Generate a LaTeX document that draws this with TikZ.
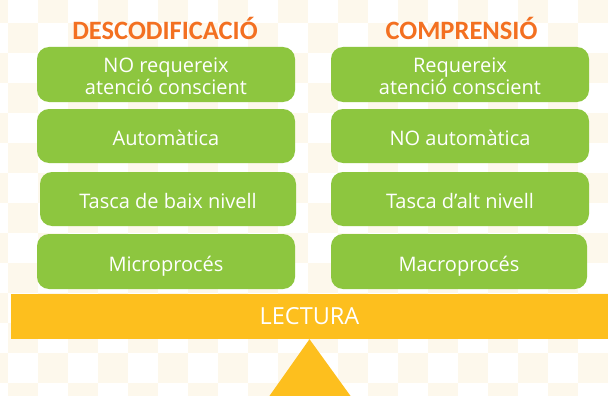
\documentclass[tikz,border=0pt]{standalone}
\usepackage{fontspec}
\setmainfont{Open Sans}
\newfontfamily\boxfont{Open Sans}
\newfontfamily\titlefont{Carlito}
\definecolor{cream}{RGB}{253,248,236}
\definecolor{leafgreen}{RGB}{141,198,63}
\definecolor{barorange}{RGB}{253,191,30}
\definecolor{titleorange}{RGB}{243,112,33}
\newcommand\boxtext[1]{\raisebox{-5pt}[\height][\depth]{\begin{tabular}{@{}c@{}}#1\end{tabular}}}
\tikzset{
  gbox/.style={fill=leafgreen, rounded corners=12pt, minimum width=258pt, minimum height=55pt,
    text=white, align=center, inner sep=0pt, font=\boxfont\fontsize{20}{21}\selectfont},
  ttl/.style={text=titleorange, inner sep=0pt, font=\titlefont\bfseries\fontsize{26.5}{28}\selectfont},
  barbox/.style={fill=barorange, minimum width=597pt, minimum height=45pt, inner sep=0pt,
    text=white, font=\boxfont\fontsize{23.5}{25}\selectfont}
}
\begin{document}
\begin{tikzpicture}[x=1pt,y=-1pt]
\useasboundingbox (0,0) rectangle (608,396);
\fill[white] (0,0) rectangle (608,396);
\begin{scope}
\clip (0,0) rectangle (608,396);
\foreach \c in {-1,...,20}{
  \foreach \r in {-1,...,12}{
    \pgfmathtruncatemacro\cellpar{mod(\c+\r+100,2)}
    \ifnum\cellpar=0
      \fill[cream] ({8+30*\c},{23+30*\r}) rectangle +(30,30);
    \fi
  }
}
\end{scope}
% titles
\node[ttl] (t1) at (165,28.5) {DESCODIFICACIÓ};
\node[ttl] (t2) at (461.5,28.5) {COMPRENSIÓ};
% left column
\node[gbox] (l1) at (166,74.5) {\boxtext{NO requereix\\atenció conscient}};
\node[gbox, minimum height=54pt] (l2) at (166,136) {\boxtext{Automàtica}};
\node[gbox, minimum width=256pt, minimum height=54pt] (l3) at (168,199) {\boxtext{Tasca de baix nivell}};
\node[gbox] (l4) at (166,261.5) {\boxtext{Microprocés}};
% right column
\node[gbox] (r1) at (460,74.5) {\boxtext{Requereix\\atenció conscient}};
\node[gbox, minimum height=54pt] (r2) at (460,136) {\boxtext{NO automàtica}};
\node[gbox, minimum height=54pt] (r3) at (460,199) {\boxtext{Tasca d’alt nivell}};
\node[gbox, minimum width=256pt] (r4) at (459,261.5) {\boxtext{Macroprocés}};
% bar and fulcrum
\node[barbox] (bar) at (309.5,316.5) {LECTURA};
\begin{scope}
\clip (0,0) rectangle (608,396);
\fill[barorange] (bar.south) -- (352,398) -- (268,398) -- cycle;
\end{scope}
\end{tikzpicture}
\end{document}
